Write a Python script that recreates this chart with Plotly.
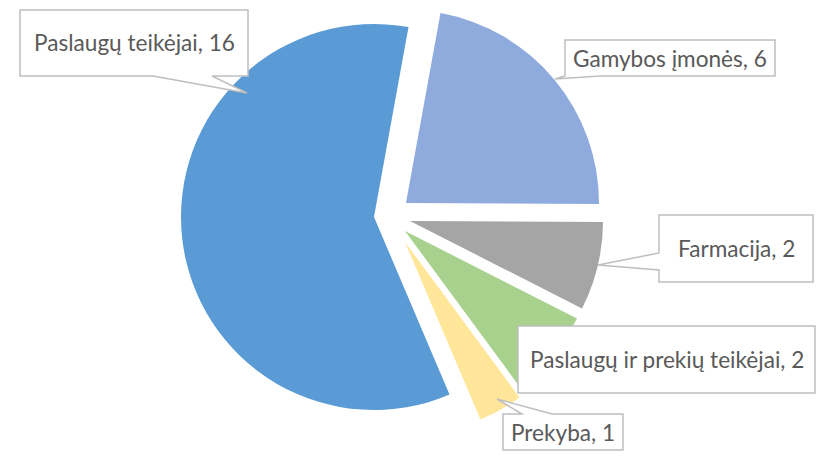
import plotly.graph_objects as go

# ---- data ----
labels = ["Gamybos įmonės", "Farmacija", "Paslaugų ir prekių teikėjai", "Prekyba", "Paslaugų teikėjai"]
values = [6, 2, 2, 1, 16]
colors = ["#8FAADC", "#A5A5A5", "#A9D18E", "#FFE699", "#5B9BD5"]

# ---- layout (pixels, measured in the 833x461 window) ----
OFF = 8  # default page body margin
W, H = 833 - OFF, 461 - OFF
R = 193  # pie radius in px
tips = [(406, 203), (410, 221), (405, 231), (405, 242), (374, 217)]
ROT = 10.3

def px(x):
    return (x - OFF) / W

def py(y):
    return 1 - (y - OFF) / H

fig = go.Figure()
for i, (cx, cy) in enumerate(tips):
    cols = [c if j == i else "rgba(0,0,0,0)" for j, c in enumerate(colors)]
    fig.add_trace(go.Pie(
        labels=labels, values=values, sort=False, direction="clockwise",
        rotation=ROT, marker=dict(colors=cols, line=dict(width=0)),
        textinfo="none", hoverinfo="skip", showlegend=False,
        domain=dict(x=[px(cx - R), px(cx + R)], y=[py(cy + R), py(cy - R)]),
    ))

def path(points):
    return "M " + " L ".join(f"{px(x):.5f},{py(y):.5f}" for x, y in points) + " Z"

callouts = {
    "Paslaugų teikėjai": [(20, 10), (248, 10), (248, 76), (212, 76), (247, 93), (153, 76), (20, 76)],
    "Gamybos įmonės": [(565, 40), (775, 40), (775, 76), (600, 76), (555, 79), (565, 76)],
    "Farmacija": [(659, 215), (813, 215), (813, 282), (659, 282), (659, 270), (598, 265), (659, 253)],
    "Paslaugų ir prekių teikėjai": [(518, 326), (815, 326), (815, 393), (518, 393)],
    "Prekyba": [(503, 414), (522, 414), (497, 399), (552, 414), (623, 414), (623, 450), (503, 450)],
}
boxes = {
    "Paslaugų teikėjai": (20, 10, 248, 76),
    "Gamybos įmonės": (565, 40, 775, 76),
    "Farmacija": (659, 215, 813, 282),
    "Paslaugų ir prekių teikėjai": (518, 326, 815, 393),
    "Prekyba": (503, 414, 623, 450),
}

shapes = []
annotations = []
for lab, val in zip(labels, values):
    shapes.append(dict(type="path", xref="paper", yref="paper", path=path(callouts[lab]),
                       fillcolor="white", line=dict(color="#BFBFBF", width=1.5), layer="above"))
    x0, y0, x1, y1 = boxes[lab]
    annotations.append(dict(x=px((x0 + x1) / 2), y=py((y0 + y1) / 2), xref="paper", yref="paper",
                            text=f"{lab}, {val}", showarrow=False, xanchor="center", yanchor="middle",
                            font=dict(family="Lato", size=22.6, color="#595959")))

fig.update_layout(width=W, height=H, margin=dict(l=0, r=0, t=0, b=0),
                  paper_bgcolor="white", plot_bgcolor="white",
                  shapes=shapes, annotations=annotations)

fig.write_html("out.html")
